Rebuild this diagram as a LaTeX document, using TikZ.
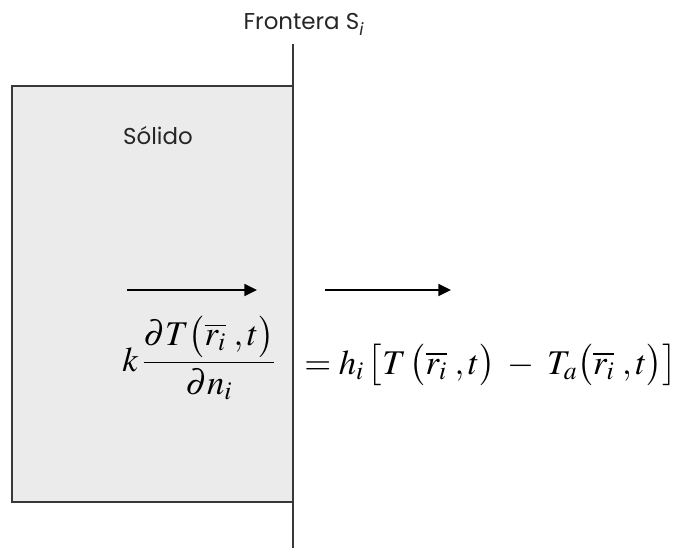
\documentclass[tikz,border=0pt]{standalone}
\usepackage{mathptmx}
\usepackage[no-math]{fontspec}
\setmainfont{Poppins}
\usetikzlibrary{arrows.meta}
\tikzset{
  lbl/.style={font=\fontsize{17.2}{20}\selectfont, text=black!85, inner sep=0pt},
  eqn/.style={font=\fontsize{26}{30}\selectfont, inner sep=0pt},
  flux/.style={line width=1.3pt, -{Triangle[length=9.5pt,width=9pt]}},
  edge/.style={line width=1.3pt, draw=black!78},
}
\begin{document}
\begin{tikzpicture}[x=0.75pt,y=-0.75pt]
\useasboundingbox (0,0) rectangle (680,548);
% solid block
\fill[black!8] (12,86) rectangle (293,502);
\draw[edge] (293,86) -- (12,86) -- (12,502) -- (293,502);
% boundary line
\coordinate (btop) at (293,44);
\coordinate (bbot) at (293,548);
\draw[edge] (btop) -- (bbot);
% labels
\node[lbl, anchor=base] (front) at (304,30) {Frontera S\textsubscript{\textit{i}}};
\node[lbl, anchor=base] (solido) at (158,145) {Sólido};
% arrows
\coordinate (a1s) at (127,290);
\coordinate (a1e) at (257,290);
\coordinate (a2s) at (325,290);
\coordinate (a2e) at (451,290);
\draw[flux] (a1s) -- (a1e);
\draw[flux] (a2s) -- (a2e);
% equations
\node[eqn, anchor=base west] (lhs) at (122,371)
  {$\displaystyle k\,\frac{\partial T\bigl(\overline{r_i}\;,t\bigr)}{\partial n_i}$};
\node[eqn, anchor=base west] (rhs) at (304,374)
  {$\displaystyle = h_i\,\bigl[T\,\bigl(\overline{r_i}\;,t\bigr) \;-\; T_a\bigl(\overline{r_i}\;,t\bigr)\bigr]$};
\end{tikzpicture}
\end{document}
